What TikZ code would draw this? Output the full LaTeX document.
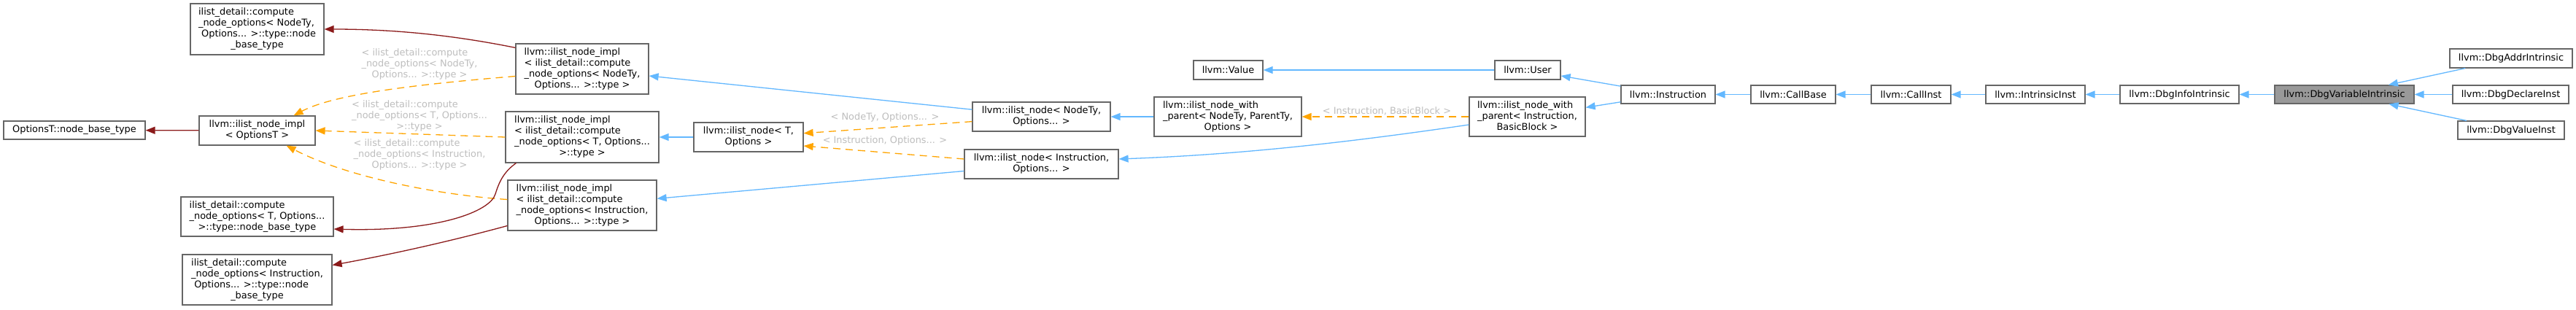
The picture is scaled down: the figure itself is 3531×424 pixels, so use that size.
\documentclass[tikz,border=0pt]{standalone}
\usepackage{fontspec}
\setmainfont{DejaVu Sans}
\usetikzlibrary{arrows.meta,calc}
\definecolor{boxgray}{HTML}{666666}
\definecolor{blueedge}{HTML}{63B8FF}
\definecolor{orangeedge}{HTML}{FFA500}
\definecolor{rededge}{HTML}{8B1A1A}
\definecolor{lblgray}{HTML}{BEBEBE}
\definecolor{focusfill}{HTML}{999999}
\newcommand{\dgfont}{\fontsize{12.9}{15}\selectfont}
\newcommand{\ml}[1]{\begin{tabular}{@{}l@{}}#1\end{tabular}}
\newcommand{\lc}[1]{\multicolumn{1}{@{}c@{}}{#1}}
\begin{document}
\begin{tikzpicture}[x=1pt,y=-1pt,
  box/.style={draw=boxgray, line width=1.2pt, fill=white, inner sep=0pt, font=\dgfont, text=black},
  pub/.style={draw=blueedge, line width=1.3pt, -{Triangle[length=13pt,width=10pt]}},
  tmpl/.style={draw=orangeedge, line width=1.3pt, dash pattern=on 10pt off 7pt, -{Triangle[length=13pt,width=10pt]}},
  priv/.style={draw=rededge, line width=1.3pt, -{Triangle[length=13pt,width=10pt]}},
  lbl/.style={text=lblgray, font=\dgfont, inner sep=0pt}
]
\useasboundingbox (0,0) rectangle (3531,424);
\fill[white] (0,0) rectangle (3531,424);

% nodes
\node[box, minimum width=183pt, minimum height=70pt] (n1) at (352.5,40)
  {\ml{ilist\_detail::compute\\\_node\_options< NodeTy,\\\ Options... >::type::node\\\lc{\_base\_type}}};
\node[box, minimum width=194pt, minimum height=25pt] (optbase) at (102,178.5) {OptionsT::node\_base\_type};
\node[box, minimum width=159pt, minimum height=40pt] (implO) at (352.5,179)
  {\ml{llvm::ilist\_node\_impl\\\lc{< OptionsT >}}};
\node[box, minimum width=209pt, minimum height=54pt] (n4) at (352.5,297)
  {\ml{ilist\_detail::compute\\\_node\_options< T, Options...\\\lc{>::type::node\_base\_type}}};
\node[box, minimum width=205pt, minimum height=69pt] (n5) at (352.5,383.5)
  {\ml{ilist\_detail::compute\\\_node\_options< Instruction,\\\ Options... >::type::node\\\lc{\_base\_type}}};

\node[box, minimum width=182pt, minimum height=69pt] (implN) at (798,94.5)
  {\ml{llvm::ilist\_node\_impl\\< ilist\_detail::compute\\\_node\_options< NodeTy,\\\lc{Options... >::type >}}};
\node[box, minimum width=210pt, minimum height=70pt] (implT) at (798,188)
  {\ml{llvm::ilist\_node\_impl\\< ilist\_detail::compute\\\_node\_options< T, Options...\\\lc{>::type >}}};
\node[box, minimum width=204pt, minimum height=69pt] (implI) at (798,281.5)
  {\ml{llvm::ilist\_node\_impl\\< ilist\_detail::compute\\\_node\_options< Instruction,\\\lc{Options... >::type >}}};

\node[box, minimum width=150pt, minimum height=40pt] (nodeT) at (1026,188)
  {\ml{llvm::ilist\_node< T,\\\lc{Options >}}};
\node[box, minimum width=189pt, minimum height=40pt] (nodeN) at (1427.5,160)
  {\ml{llvm::ilist\_node< NodeTy,\\\lc{Options... >}}};
\node[box, minimum width=211pt, minimum height=40pt] (nodeI) at (1427.5,225)
  {\ml{llvm::ilist\_node< Instruction,\\\lc{Options... >}}};

\node[box, minimum width=95pt, minimum height=26pt] (value) at (1683.5,96) {llvm::Value};
\node[box, minimum width=202pt, minimum height=54pt] (nwpN) at (1683,160)
  {\ml{llvm::ilist\_node\_with\\\_parent< NodeTy, ParentTy,\\\lc{Options >}}};
\node[box, minimum width=90pt, minimum height=26pt] (user) at (2094,96) {llvm::User};
\node[box, minimum width=159pt, minimum height=54pt] (nwpI) at (2093.5,160)
  {\ml{llvm::ilist\_node\_with\\\_parent< Instruction,\\\lc{BasicBlock >}}};

\node[box, minimum width=129pt, minimum height=25pt] (instr) at (2286.5,129.5) {llvm::Instruction};
\node[box, minimum width=116pt, minimum height=25pt] (callbase) at (2458,129.5) {llvm::CallBase};
\node[box, minimum width=109pt, minimum height=25pt] (callinst) at (2619.5,129.5) {llvm::CallInst};
\node[box, minimum width=136pt, minimum height=25pt] (intrinsic) at (2790,129.5) {llvm::IntrinsicInst};
\node[box, minimum width=163pt, minimum height=25pt] (dbginfo) at (2987.5,129.5) {llvm::DbgInfoIntrinsic};
\node[box, fill=focusfill, minimum width=191pt, minimum height=25pt] (dbgvar) at (3213.5,129.5) {llvm::DbgVariableIntrinsic};
\node[box, minimum width=168pt, minimum height=26pt] (dbgaddr) at (3442,80) {llvm::DbgAddrIntrinsic};
\node[box, minimum width=159pt, minimum height=25pt] (dbgdecl) at (3441.5,129.5) {llvm::DbgDeclareInst};
\node[box, minimum width=146pt, minimum height=25pt] (dbgval) at (3442,178.5) {llvm::DbgValueInst};

% edge labels
\node[lbl] (lbA) at (575,88) {\ml{< ilist\_detail::compute\\\_node\_options< NodeTy,\\\lc{Options... >::type >}}};
\node[lbl] (lbB) at (575,159) {\ml{< ilist\_detail::compute\\\_node\_options< T, Options...\\\lc{>::type >}}};
\node[lbl] (lbC) at (575,212) {\ml{< ilist\_detail::compute\\\_node\_options< Instruction,\\\lc{Options... >::type >}}};
\node[lbl] (lbD) at (1213,161) {< NodeTy, Options... >};
\node[lbl] (lbE) at (1213,193) {< Instruction, Options... >};
\node[lbl] (lbF) at (1901,152) {< Instruction, BasicBlock >};

% public inheritance (blue)
\draw[pub] (dbgaddr) -- (dbgvar);
\draw[pub] (dbgdecl) -- (dbgvar);
\draw[pub] (dbgval) -- (dbgvar);
\draw[pub] (dbgvar) -- (dbginfo);
\draw[pub] (dbginfo) -- (intrinsic);
\draw[pub] (intrinsic) -- (callinst);
\draw[pub] (callinst) -- (callbase);
\draw[pub] (callbase) -- (instr);
\draw[pub] (instr) -- (user);
\draw[pub] (instr) -- (nwpI);
\draw[pub] (user) -- (value);
\draw[pub] (nwpN) -- (nodeN);
\draw[pub] ($(nwpI.west)+(0,11)$) .. controls (1850,195) and (1700,212) .. ($(nodeI.east)+(0,-7)$);
\draw[pub] (nodeN) -- (implN);
\draw[pub] (nodeT) -- (implT);
\draw[pub] (nodeI) -- (implI);

% template instances (orange dashed)
\draw[tmpl] (nwpI) -- (nwpN);
\draw[tmpl] (nodeN) -- (nodeT);
\draw[tmpl] ($(nodeI.west)+(0,-7)$) -- ($(nodeT.east)+(0,12)$);
\draw[tmpl] ($(implN.west)+(0,10)$) .. controls (580,115) and (460,128) .. ($(implO.north)+(50,0)$);
\draw[tmpl] (implT.west) -- (implO.east);
\draw[tmpl] ($(implI.west)+(0,-8)$) .. controls (610,268) and (480,245) .. ($(implO.south)+(40,0)$);

% private inheritance (dark red)
\draw[priv] (implO) -- (optbase);
\draw[priv] ($(implN.north west)+(0,6)$) .. controls (620,48) and (540,40) .. (n1.east);
\draw[priv] ($(implT.south west)+(15,0)$) .. controls (690,236) and (684,250) .. (679,266)
  .. controls (672,290) and (600,318) .. ($(n4.east)+(0,17)$);
\draw[priv] ($(implI.west)+(0,28)$) .. controls (620,330) and (540,348) .. ($(n5.east)+(0,-20)$);
\end{tikzpicture}
\end{document}
